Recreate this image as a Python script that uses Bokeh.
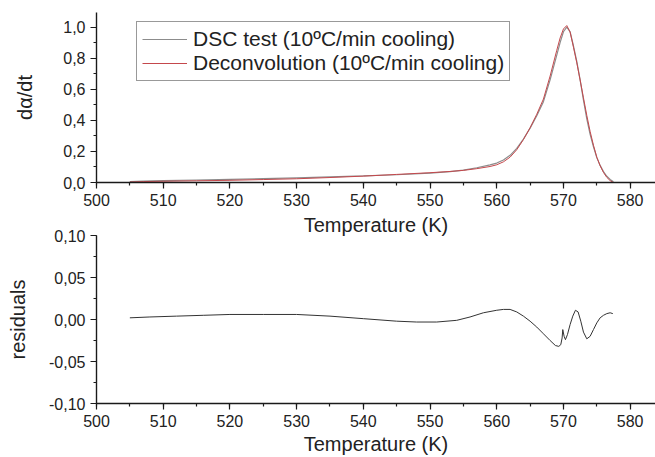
from bokeh.plotting import figure
from bokeh.layouts import column
from bokeh.models import (Range1d, SingleIntervalTicker, LinearAxis, FixedTicker,
                          Legend, LegendItem, CustomJSTickFormatter)
from bokeh.embed import file_html
from bokeh.resources import INLINE

# --- data -------------------------------------------------------------------
temperature = [505, 507, 510, 515, 520, 525, 530, 535, 540, 545, 550, 553, 555,
               557, 559, 560, 561, 562, 563, 564, 565, 566, 567, 568, 569,
               569.5, 570, 570.5, 571, 571.5, 572, 572.5, 573, 573.5, 574,
               574.5, 575, 575.5, 576, 576.5, 577, 577.5]
dsc_rate = [0.005, 0.009, 0.012, 0.016, 0.020, 0.025, 0.030, 0.036, 0.042,
            0.050, 0.060, 0.070, 0.080, 0.095, 0.113, 0.125, 0.145, 0.175,
            0.220, 0.280, 0.350, 0.430, 0.520, 0.660, 0.820, 0.900, 0.970,
            1.000, 0.970, 0.880, 0.780, 0.660, 0.530, 0.410, 0.310, 0.230,
            0.160, 0.110, 0.070, 0.040, 0.020, 0.005]
deconv_rate = [0.003, 0.006, 0.008, 0.011, 0.014, 0.019, 0.024, 0.032, 0.041,
               0.052, 0.063, 0.071, 0.078, 0.089, 0.103, 0.114, 0.133, 0.163,
               0.211, 0.276, 0.352, 0.439, 0.537, 0.685, 0.851, 0.930, 0.988,
               1.010, 0.968, 0.871, 0.770, 0.660, 0.545, 0.432, 0.328, 0.240,
               0.163, 0.108, 0.065, 0.033, 0.012, 0.000]

res_temperature = [505, 508, 512, 516, 520, 525, 530, 535, 540, 545, 548, 551,
                   554, 556, 558, 560, 561, 562, 563, 564, 565, 566, 567, 568,
                   568.8, 569.3, 569.6, 569.8, 569.9, 570.1, 570.3, 570.6,
                   571.0, 571.4, 571.8, 572.2, 572.6, 573.0, 573.5, 574.0,
                   574.5, 575.0, 575.5, 576.0, 576.5, 577.0, 577.4]
residuals = [0.002, 0.003, 0.004, 0.005, 0.006, 0.006, 0.006, 0.004, 0.001,
             -0.002, -0.003, -0.003, -0.001, 0.003, 0.008, 0.011, 0.012, 0.012,
             0.009, 0.004, -0.002, -0.009, -0.017, -0.025, -0.031, -0.032,
             -0.030, -0.022, -0.012, -0.020, -0.024, -0.018, -0.006, 0.004,
             0.011, 0.009, -0.002, -0.015, -0.023, -0.020, -0.012, -0.004,
             0.002, 0.005, 0.007, 0.008, 0.007]

legend_labels = ["DSC test (10ºC/min cooling)", "Deconvolution (10ºC/min cooling)"]

FONT = "Liberation Sans"
W = 655

# decimal comma tick labels
comma1 = CustomJSTickFormatter(code="return tick.toFixed(1).replace('.', ',');")
comma2 = CustomJSTickFormatter(code="return tick.toFixed(2).replace('.', ',');")


def style(p):
    p.outline_line_color = None
    p.background_fill_color = "white"
    p.border_fill_color = "white"
    for ax in (p.xaxis[0], p.yaxis[0]):
        ax.axis_line_color = "#1a1a1a"
        ax.axis_line_width = 1.4
        ax.major_tick_line_color = "#1a1a1a"
        ax.minor_tick_line_color = "#1a1a1a"
        ax.major_tick_line_width = 1.2
        ax.minor_tick_line_width = 1.2
        ax.major_tick_in = 0
        ax.major_tick_out = 6
        ax.minor_tick_in = 0
        ax.minor_tick_out = 3
        ax.major_label_text_font = FONT
        ax.major_label_text_font_size = "16px"
        ax.major_label_text_color = "#222222"
        ax.axis_label_text_font = FONT
        ax.axis_label_text_font_size = "20px"
        ax.axis_label_text_font_style = "normal"
        ax.axis_label_text_color = "#222222"
    p.xaxis[0].ticker = SingleIntervalTicker(interval=10, num_minor_ticks=2)
    p.xaxis[0].major_label_standoff = 5
    p.yaxis[0].major_label_standoff = 5


# --- upper panel: rate curves -----------------------------------------------
top = figure(width=W, height=210, output_backend="svg", toolbar_location=None,
             x_range=Range1d(500, 583.8), y_range=Range1d(0, 1.094),
             min_border_left=96, min_border_right=0, min_border_top=12,
             min_border_bottom=28)
top.grid.visible = False
style(top)
top.yaxis[0].ticker = SingleIntervalTicker(interval=0.2, num_minor_ticks=2)
top.yaxis[0].formatter = comma1
top.yaxis[0].axis_label = "dα/dt"
top.yaxis[0].axis_label_standoff = 24

r_dsc = top.line(temperature, dsc_rate, line_color="#8c8c8c", line_width=1.2)
r_dec = top.line(temperature, deconv_rate, line_color="#c4484c", line_width=1.0)

leg = Legend(items=[LegendItem(label=legend_labels[0], renderers=[r_dsc]),
                    LegendItem(label=legend_labels[1], renderers=[r_dec])],
             location=(40, 101), orientation="vertical")
leg.label_text_font = FONT
leg.label_text_font_size = "21px"
leg.label_text_color = "#222222"
leg.glyph_width = 45
leg.glyph_height = 20
leg.label_height = 20
leg.label_standoff = 6
leg.spacing = 0
leg.padding = 5
leg.margin = 0
leg.border_line_color = "#333333"
leg.border_line_width = 1
leg.background_fill_alpha = 1.0
top.add_layout(leg, "center")

# --- lower panel: residuals -------------------------------------------------
bot = figure(width=W, height=247, output_backend="svg", toolbar_location=None,
             x_range=Range1d(500, 583.8), y_range=Range1d(-0.10, 0.10),
             min_border_left=96, min_border_right=0, min_border_top=2,
             min_border_bottom=54)
bot.grid.visible = False
style(bot)
bot.yaxis[0].ticker = SingleIntervalTicker(interval=0.05, num_minor_ticks=2)
bot.yaxis[0].formatter = comma2
bot.yaxis[0].axis_label = "residuals"
bot.yaxis[0].axis_label_standoff = 17
bot.xaxis[0].axis_label = "Temperature (K)"
bot.xaxis[0].axis_label_standoff = 3

# x-axis title of the upper panel, sitting right above the residual frame
upper_title = LinearAxis(ticker=FixedTicker(ticks=[]), axis_label="Temperature (K)",
                         axis_line_color=None, major_tick_line_color=None,
                         minor_tick_line_color=None, axis_label_standoff=0,
                         axis_label_text_font=FONT, axis_label_text_font_size="20px",
                         axis_label_text_font_style="normal",
                         axis_label_text_color="#222222")
bot.add_layout(upper_title, "above")

bot.line(res_temperature, residuals, line_color="#333333", line_width=1.0)

layout = column(top, bot, spacing=0)

with open("out.html", "w") as f:
    f.write(file_html(layout, INLINE))
